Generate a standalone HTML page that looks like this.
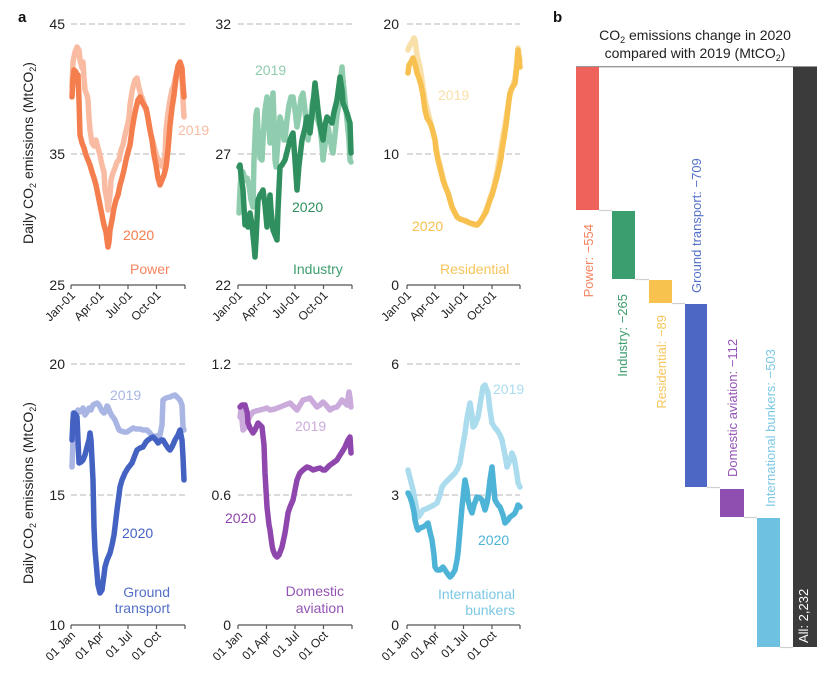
<!DOCTYPE html>
<html><head><meta charset="utf-8"><style>
html,body{margin:0;padding:0;background:#fff;}
svg{display:block;font-family:"Liberation Sans",Arial,sans-serif;}
.g{stroke:#cfcfcf;stroke-width:1.6;stroke-dasharray:6 3;fill:none}
.ax{stroke:#555;stroke-width:1.2;fill:none}
.yt{font-size:14px;fill:#222;text-anchor:end}
.xt{font-size:12px;fill:#222;text-anchor:end}
.ln{fill:none;stroke-width:5.5;stroke-linejoin:round;stroke-linecap:round}
.lb{font-size:14px}
.bl{font-size:13px}
.cn{stroke:#d0d0d0;stroke-width:1.2}
</style></head><body>
<svg width="830" height="680" viewBox="0 0 830 680" xmlns="http://www.w3.org/2000/svg">
<text x="18" y="22" font-size="15" font-weight="bold" fill="#111">a</text>
<text x="553" y="22" font-size="15" font-weight="bold" fill="#111">b</text>

<text transform="translate(33,153) rotate(-90)" font-size="14" fill="#222" text-anchor="middle">Daily CO<tspan font-size="9" dy="3">2</tspan><tspan dy="-3"> emissions (MtCO</tspan><tspan font-size="9" dy="3">2</tspan><tspan dy="-3">)</tspan></text>
<text transform="translate(33,493) rotate(-90)" font-size="14" fill="#222" text-anchor="middle">Daily CO<tspan font-size="9" dy="3">2</tspan><tspan dy="-3"> emissions (MtCO</tspan><tspan font-size="9" dy="3">2</tspan><tspan dy="-3">)</tspan></text>

<g>
<line class="g" x1="71" y1="24" x2="185" y2="24"/><line class="g" x1="71" y1="154" x2="185" y2="154"/>
<line class="g" x1="238" y1="24" x2="352" y2="24"/><line class="g" x1="238" y1="154" x2="352" y2="154"/>
<line class="g" x1="407" y1="24" x2="520" y2="24"/><line class="g" x1="407" y1="154" x2="520" y2="154"/>
<line class="g" x1="71" y1="364" x2="185" y2="364"/><line class="g" x1="71" y1="495" x2="185" y2="495"/>
<line class="g" x1="238" y1="364" x2="352" y2="364"/><line class="g" x1="238" y1="495" x2="352" y2="495"/>
<line class="g" x1="407" y1="364" x2="520" y2="364"/><line class="g" x1="407" y1="495" x2="520" y2="495"/>
</g>
<g class="ax">
<path d="M71,285H185M71,285v4M99.5,285v4M128,285v4M156.5,285v4M185,285v4"/>
<path d="M238,285H352M238,285v4M266.5,285v4M295,285v4M323.5,285v4M352,285v4"/>
<path d="M407,285H520M407,285v4M435,285v4M463.5,285v4M492,285v4M520,285v4"/>
<path d="M71,625H185M71,625v4M99.5,625v4M128,625v4M156.5,625v4M185,625v4"/>
<path d="M238,625H352M238,625v4M266.5,625v4M295,625v4M323.5,625v4M352,625v4"/>
<path d="M407,625H520M407,625v4M435,625v4M463.5,625v4M492,625v4M520,625v4"/>
</g>

<text class="yt" x="65" y="29">45</text><text class="yt" x="65" y="159">35</text><text class="yt" x="65" y="290">25</text>
<text class="yt" x="231" y="29">32</text><text class="yt" x="231" y="159">27</text><text class="yt" x="231" y="290">22</text>
<text class="yt" x="399" y="29">20</text><text class="yt" x="399" y="159">10</text><text class="yt" x="399" y="290">0</text>
<text class="yt" x="65" y="369">20</text><text class="yt" x="65" y="500">15</text><text class="yt" x="65" y="630">10</text>
<text class="yt" x="231" y="369">1.2</text><text class="yt" x="231" y="500">0.6</text><text class="yt" x="231" y="630">0</text>
<text class="yt" x="399" y="369">6</text><text class="yt" x="399" y="500">3</text><text class="yt" x="399" y="630">0</text>

<g>
<text class="xt" transform="translate(76,296) rotate(-45)">Jan-01</text>
<text class="xt" transform="translate(104.5,296) rotate(-45)">Apr-01</text>
<text class="xt" transform="translate(133,296) rotate(-45)">Jul-01</text>
<text class="xt" transform="translate(161.5,296) rotate(-45)">Oct-01</text>
<text class="xt" transform="translate(243,296) rotate(-45)">Jan-01</text>
<text class="xt" transform="translate(271.5,296) rotate(-45)">Apr-01</text>
<text class="xt" transform="translate(300,296) rotate(-45)">Jul-01</text>
<text class="xt" transform="translate(328.5,296) rotate(-45)">Oct-01</text>
<text class="xt" transform="translate(412,296) rotate(-45)">Jan-01</text>
<text class="xt" transform="translate(440,296) rotate(-45)">Apr-01</text>
<text class="xt" transform="translate(468.5,296) rotate(-45)">Jul-01</text>
<text class="xt" transform="translate(497,296) rotate(-45)">Oct-01</text>
<text class="xt" transform="translate(76,636) rotate(-45)">01 Jan</text>
<text class="xt" transform="translate(104.5,636) rotate(-45)">01 Apr</text>
<text class="xt" transform="translate(133,636) rotate(-45)">01 Jul</text>
<text class="xt" transform="translate(161.5,636) rotate(-45)">01 Oct</text>
<text class="xt" transform="translate(243,636) rotate(-45)">01 Jan</text>
<text class="xt" transform="translate(271.5,636) rotate(-45)">01 Apr</text>
<text class="xt" transform="translate(300,636) rotate(-45)">01 Jul</text>
<text class="xt" transform="translate(328.5,636) rotate(-45)">01 Oct</text>
<text class="xt" transform="translate(412,636) rotate(-45)">01 Jan</text>
<text class="xt" transform="translate(440,636) rotate(-45)">01 Apr</text>
<text class="xt" transform="translate(468.5,636) rotate(-45)">01 Jul</text>
<text class="xt" transform="translate(497,636) rotate(-45)">01 Oct</text>
</g>

<polyline class="ln" stroke="#F9BCA2" points="72,87 73,62 75,52 77,47 79,50 80,60 82,68 83,62 84,78 85,90 87,95 88,100 89,118 90,130 92,143 94,146 96,140 98,148 100,155 102,165 104,172 105,190 107,200 108,210 110,195 111,180 113,173 115,168 117,162 119,160 121,150 123,145 125,135 127,127 129,118 130,105 132,92 133,87 135,80 137,78 139,88 141,95 143,100 145,108 147,112 149,125 151,135 153,142 155,150 157,157 159,160 161,165 163,167 165,155 166,130 168,113 170,100 172,90 174,85 176,75 178,67 180,72 182,80 183,100 184,117"/>
<polyline class="ln" stroke="#F47E4E" points="72,97 73,78 74,70 76,72 77,82 78,75 79,100 80,135 82,143 84,148 86,155 88,160 90,165 92,172 94,178 96,185 98,195 100,205 102,215 104,225 106,232 107,240 108,247 109,242 110,230 112,220 114,208 116,200 118,195 120,185 122,178 124,170 126,160 128,152 130,145 132,130 134,118 136,108 138,100 140,97 142,102 144,105 146,108 148,118 150,130 152,140 154,155 156,165 158,178 160,185 162,180 164,175 166,167 168,150 170,125 172,108 174,95 176,78 178,66 180,62 182,68 183,85 184,97"/>
<text class="lb" x="178" y="135" fill="#F9BCA2">2019</text>
<text class="lb" x="123" y="240" fill="#F47E4E">2020</text>
<text class="lb" x="130" y="274" fill="#F4845F">Power</text>

<polyline class="ln" stroke="#90CDAE" points="239,213 240,190 241,175 243,172 245,180 247,178 249,185 251,200 253,207 254,160 256,115 257,110 258,130 260,158 262,160 263,140 265,110 267,97 268,110 270,143 271,120 273,93 274,120 275,160 276,167 278,140 280,117 282,125 284,140 285,140 287,120 289,105 291,97 293,97 295,110 297,127 299,115 301,98 303,93 305,110 307,135 308,140 310,125 312,105 313,100 315,110 317,118 320,127 322,145 323,160 325,145 327,130 328,127 330,138 332,150 333,153 335,135 337,115 338,110 340,85 342,67 343,80 345,100 347,120 349,140 350,160 351,162"/>
<polyline class="ln" stroke="#2F8F5E" points="239,167 240,165 241,175 243,190 245,225 247,220 248,227 250,213 252,225 254,245 255,257 256,240 258,200 260,195 262,192 263,190 265,205 267,227 268,215 270,195 271,210 273,230 275,235 277,240 278,210 280,167 282,165 285,160 287,152 290,140 292,135 293,133 295,160 297,190 299,165 302,140 305,128 307,117 309,125 310,133 312,115 315,83 317,100 318,110 320,125 323,140 325,125 327,117 329,120 332,123 334,112 337,100 339,85 340,77 342,90 343,103 345,108 347,113 349,120 350,123 351,153"/>
<text class="lb" x="255" y="75" fill="#90CDAE">2019</text>
<text class="lb" x="292" y="212" fill="#2F8F5E">2020</text>
<text class="lb" x="293" y="274" fill="#3D9E6E">Industry</text>

<polyline class="ln" stroke="#F9E0A8" points="408,50 410,45 412,42 414,38 415,40 417,55 420,67 422,80 425,100 428,112 430,120 433,132 435,140 438,158 440,165 443,178 446,188 448,193 450,200 452,207 455,213 457,217 460,219 463,220 467,222 470,223 474,225 477,225 480,222 483,217 486,210 488,205 490,198 493,190 495,180 497,172 499,160 501,148 503,135 505,125 507,112 509,100 511,90 513,85 515,78 517,60 518,48 519,55 520,60"/>
<polyline class="ln" stroke="#F7C04F" points="408,73 409,65 411,62 413,58 415,64 417,73 419,78 421,85 423,95 425,110 427,118 430,123 432,128 434,136 435,140 436,150 438,160 440,168 442,176 443,180 445,186 448,193 450,200 452,207 454,211 457,217 460,219 463,220 466,221 470,223 474,224 477,225 480,222 483,217 486,212 488,206 490,200 492,195 494,188 497,177 499,168 501,158 502,150 504,138 506,125 507,117 509,100 510,93 512,88 514,85 515,83 517,65 518,50 519,58 520,67"/>
<text class="lb" x="438" y="100" fill="#F9E0A8">2019</text>
<text class="lb" x="412" y="231" fill="#F7C04F">2020</text>
<text class="lb" x="440" y="274" fill="#F7C55A">Residential</text>

<polyline class="ln" stroke="#A9B5E3" points="72,467 73,440 73,413 76,414 78,410 80,412 83,408 85,415 87,412 89,408 91,410 93,405 95,404 97,403 99,405 100,407 102,411 104,413 105,412 107,406 108,407 110,412 112,416 113,417 115,420 117,425 119,430 121,431 124,432 127,432 130,430 133,428 136,429 140,429 143,430 147,430 150,433 153,437 156,436 160,435 162,425 163,400 166,398 170,397 172,396 175,395 177,397 180,400 182,405 183,427 184,430"/>
<polyline class="ln" stroke="#4462C2" points="72,440 73,420 74,413 76,415 77,417 78,440 79,463 81,462 83,460 85,455 87,447 89,440 90,433 91,440 93,480 94,527 95,550 97,573 98,585 100,593 102,590 104,575 105,567 107,560 110,553 112,545 114,535 115,527 117,510 119,495 120,487 122,480 125,473 128,468 132,463 135,455 137,450 140,448 143,447 146,442 148,440 151,438 153,437 156,440 158,443 161,440 163,440 166,445 168,448 170,450 172,447 175,440 178,435 180,430 182,440 183,457 184,480"/>
<text class="lb" x="110" y="400" fill="#A9B5E3">2019</text>
<text class="lb" x="122" y="538" fill="#4462C2">2020</text>
<text class="lb" x="170" y="597" fill="#5470C8" text-anchor="end">Ground</text>
<text class="lb" x="170" y="613" fill="#5470C8" text-anchor="end">transport</text>

<polyline class="ln" stroke="#CBAADC" points="240,417 241,410 243,430 245,428 248,420 250,416 253,412 256,411 260,410 264,409 267,408 270,410 275,409 280,407 285,405 290,403 293,406 297,410 300,405 303,400 307,399 310,398 313,402 317,407 320,405 323,402 326,405 330,410 333,408 337,407 340,403 342,400 344,402 347,405 349,392 350,398 351,407"/>
<polyline class="ln" stroke="#8F47AD" points="240,407 242,405 245,405 247,412 248,423 250,428 253,433 255,430 258,423 260,425 262,427 264,445 265,473 266,490 267,507 269,525 270,530 272,545 273,550 275,555 277,557 279,555 282,547 285,533 287,520 288,513 290,507 293,500 295,490 297,480 299,475 300,473 303,470 307,467 310,468 313,470 316,469 320,468 323,470 325,470 328,467 330,465 333,463 337,460 340,455 342,452 345,447 348,440 350,437 351,453"/>
<text class="lb" x="295" y="431" fill="#CBAADC">2019</text>
<text class="lb" x="225" y="523" fill="#8F47AD">2020</text>
<text class="lb" x="344" y="596" fill="#9454B4" text-anchor="end">Domestic</text>
<text class="lb" x="344" y="613" fill="#9454B4" text-anchor="end">aviation</text>

<polyline class="ln" stroke="#ABDCEE" points="408,470 410,478 413,490 416,505 418,517 420,515 423,510 426,509 430,507 434,505 437,503 440,495 442,487 445,483 448,480 452,476 455,473 458,468 460,463 462,450 465,433 467,418 470,403 472,415 473,427 475,425 478,417 480,405 483,387 485,385 488,393 490,410 492,423 495,428 497,430 500,435 502,440 505,455 507,467 510,460 512,453 514,458 515,463 517,475 518,483 520,487"/>
<polyline class="ln" stroke="#4DB3D7" points="408,493 410,497 412,503 414,512 415,520 417,528 418,530 420,528 423,527 426,525 428,523 430,532 432,540 434,555 435,567 437,570 440,570 442,568 443,567 445,570 447,573 450,577 452,575 455,570 457,560 458,553 460,530 462,507 464,488 465,480 467,490 468,500 470,508 472,513 474,505 477,497 480,498 482,500 485,510 487,503 488,497 490,480 492,467 493,478 495,500 498,505 500,507 503,515 505,523 508,520 510,517 513,515 515,513 517,508 518,505 520,507"/>
<text class="lb" x="493" y="394" fill="#ABDCEE">2019</text>
<text class="lb" x="478" y="545" fill="#4DB3D7">2020</text>
<text class="lb" x="515" y="599" fill="#7CC8E3" text-anchor="end">International</text>
<text class="lb" x="515" y="615" fill="#7CC8E3" text-anchor="end">bunkers</text>

<text x="695" y="40" font-size="14" fill="#222" text-anchor="middle">CO<tspan font-size="9" dy="3">2</tspan><tspan dy="-3"> emissions change in 2020</tspan></text>
<text x="695" y="58" font-size="14" fill="#222" text-anchor="middle">compared with 2019 (MtCO<tspan font-size="9" dy="3">2</tspan><tspan dy="-3">)</tspan></text>
<line x1="576" y1="66.7" x2="817" y2="66.7" stroke="#999" stroke-width="1.3"/>
<line class="cn" x1="599" y1="210.5" x2="612" y2="210.5"/>
<line class="cn" x1="635" y1="279.5" x2="649" y2="279.5"/>
<line class="cn" x1="672" y1="303.5" x2="685" y2="303.5"/>
<line class="cn" x1="707" y1="487.5" x2="720" y2="487.5"/>
<line class="cn" x1="744" y1="517.5" x2="757" y2="517.5"/>
<line class="cn" x1="780" y1="647.5" x2="793" y2="647.5"/>
<rect x="576" y="67" width="23" height="143" fill="#EF625B"/>
<rect x="612" y="211" width="23" height="68" fill="#3A9E6E"/>
<rect x="649" y="280" width="23" height="23" fill="#F8C24F"/>
<rect x="685" y="304" width="22" height="183" fill="#4C67C4"/>
<rect x="720" y="489" width="24" height="28" fill="#8E4FB0"/>
<rect x="757" y="518" width="23" height="129" fill="#6EC1E0"/>
<rect x="793" y="67" width="24" height="580" fill="#3B3B3B"/>
<text class="bl" transform="translate(593,224) rotate(-90)" text-anchor="end" fill="#F4845F">Power: −554</text>
<text class="bl" transform="translate(627,294) rotate(-90)" text-anchor="end" fill="#3D9E6E">Industry: −265</text>
<text class="bl" transform="translate(666,315) rotate(-90)" text-anchor="end" fill="#F7C55A">Residential: −89</text>
<text class="bl" transform="translate(701,293) rotate(-90)" fill="#5470C8">Ground transport: −709</text>
<text class="bl" transform="translate(737,477) rotate(-90)" fill="#9454B4">Domestic aviation: −112</text>
<text class="bl" transform="translate(775,507) rotate(-90)" fill="#7CC8E3">International bunkers: −503</text>
<text class="bl" transform="translate(808,643) rotate(-90)" fill="#fff">All: 2,232</text>
</svg>
</body></html>
